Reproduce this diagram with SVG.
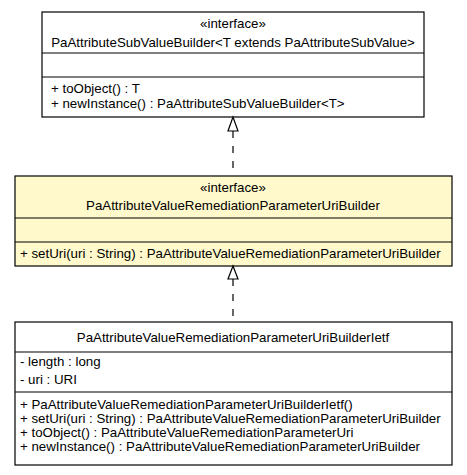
<svg xmlns="http://www.w3.org/2000/svg" width="467" height="475" viewBox="0 0 467 475">
<style>
text{font-family:"Liberation Sans",Arial,sans-serif;font-size:13.3px;fill:#000}
.c{text-anchor:middle}
.box{fill:#fff;stroke:#000;stroke-width:1.2}
.hl{fill:#fff9cc}
.div{stroke:#000;stroke-width:1.2}
.dash{stroke:#000;stroke-width:1.2;stroke-dasharray:7,8;fill:none}
.tri{fill:#fff;stroke:#000;stroke-width:1.2}
</style>
<rect width="467" height="475" fill="#fff"/>
<g id="node-PaAttributeSubValueBuilder">
<rect class="box" x="42" y="12" width="382" height="105"/>
<line class="div" x1="42" y1="53" x2="424" y2="53"/>
<line class="div" x1="42" y1="77" x2="424" y2="77"/>
<text class="c" x="233" y="28">«interface»</text>
<text class="c" x="233" y="47">PaAttributeSubValueBuilder&lt;T extends PaAttributeSubValue&gt;</text>
<text x="51" y="93">+ toObject() : T</text>
<text x="51" y="108">+ newInstance() : PaAttributeSubValueBuilder&lt;T&gt;</text>
</g>
<g id="node-PaAttributeValueRemediationParameterUriBuilder">
<rect class="box hl" x="15" y="176" width="437" height="90"/>
<line class="div" x1="15" y1="218" x2="452" y2="218"/>
<line class="div" x1="15" y1="242" x2="452" y2="242"/>
<text class="c" x="233" y="192">«interface»</text>
<text class="c" x="233" y="210">PaAttributeValueRemediationParameterUriBuilder</text>
<text x="20" y="258">+ setUri(uri : String) : PaAttributeValueRemediationParameterUriBuilder</text>
</g>
<g id="node-PaAttributeValueRemediationParameterUriBuilderIetf">
<rect class="box" x="15" y="322" width="437" height="143"/>
<line class="div" x1="15" y1="352" x2="452" y2="352"/>
<line class="div" x1="15" y1="392" x2="452" y2="392"/>
<text class="c" x="233" y="342">PaAttributeValueRemediationParameterUriBuilderIetf</text>
<text x="20" y="366">- length : long</text>
<text x="20" y="384">- uri : URI</text>
<text x="20" y="409">+ PaAttributeValueRemediationParameterUriBuilderIetf()</text>
<text x="20" y="423">+ setUri(uri : String) : PaAttributeValueRemediationParameterUriBuilder</text>
<text x="20" y="437">+ toObject() : PaAttributeValueRemediationParameterUri</text>
<text x="20" y="451">+ newInstance() : PaAttributeValueRemediationParameterUriBuilder</text>
</g>
<g id="connectors">
<line class="dash" x1="233" y1="131" x2="233" y2="176"/>
<polygon class="tri" points="233,117 228,131 238,131"/>
<line class="dash" x1="233" y1="279" x2="233" y2="322"/>
<polygon class="tri" points="233,266 228,279 238,279"/>
</g>
</svg>
